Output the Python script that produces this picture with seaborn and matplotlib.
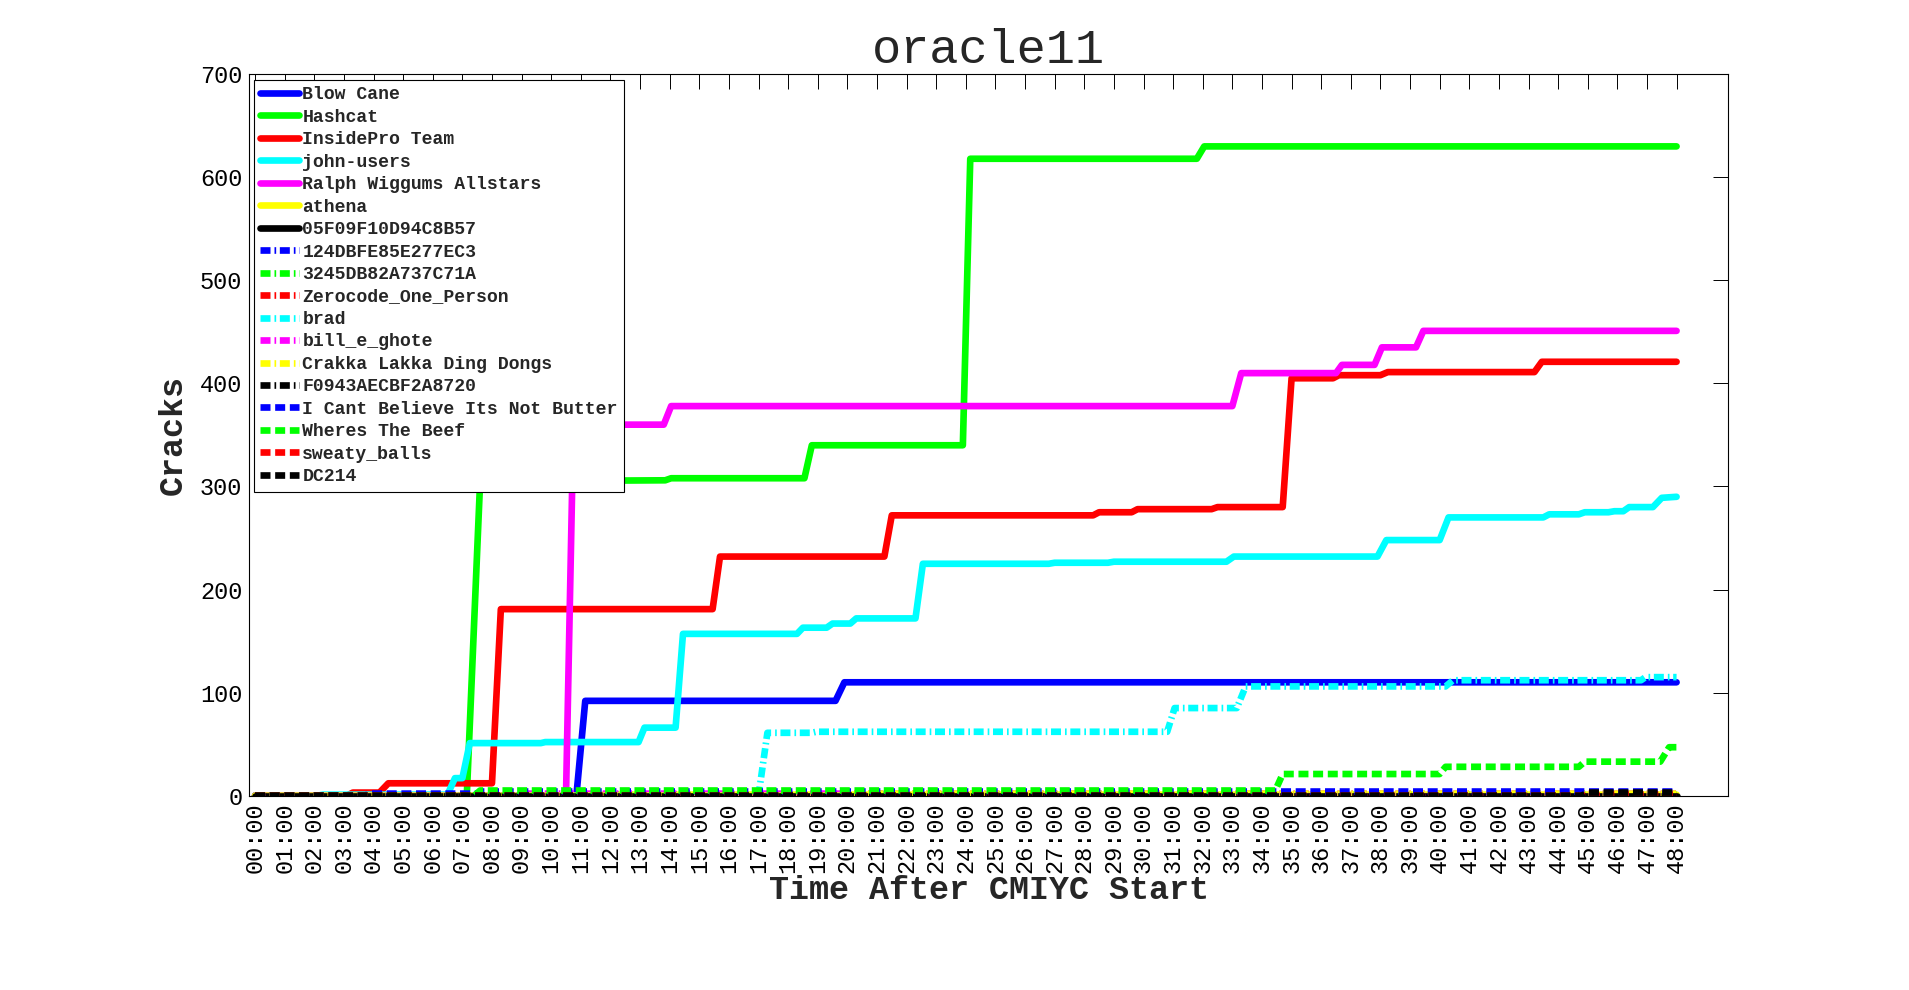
import matplotlib
matplotlib.use("Agg")
import matplotlib.pyplot as plt
import seaborn as sns

# Data: hours after start and cumulative cracks
teams = ['Blow Cane', 'Hashcat', 'InsidePro Team', 'john-users', 'Ralph Wiggums Allstars',
         'athena', '05F09F10D94C8B57', '124DBFE85E277EC3', '3245DB82A737C71A',
         'Zerocode_One_Person', 'brad', 'bill_e_ghote', 'Crakka Lakka Ding Dongs',
         'F0943AECBF2A8720', 'I Cant Believe Its Not Butter', 'Wheres The Beef',
         'sweaty_balls', 'DC214']

blow_cane_t = [0, 10.85, 11.15, 19.6, 19.9, 48]
blow_cane_v = [0, 0, 92, 92, 110, 110]

hashcat_t = [0, 7.15, 7.6, 13.85, 14.05, 18.55, 18.8, 23.9, 24.15, 31.8, 32.05, 48]
hashcat_v = [0, 0, 305, 306, 308, 308, 340, 340, 618, 618, 630, 630]

insidepro_t = [0, 3.1, 3.3, 4.2, 4.5, 8.0, 8.3, 15.45, 15.7, 21.25, 21.5, 28.3, 28.5,
               29.6, 29.8, 32.3, 32.5, 34.7, 35.0, 36.4, 36.6, 38.0, 38.25, 43.2, 43.45, 48]
insidepro_v = [0, 0, 3, 3, 12, 12, 181, 181, 232, 232, 272, 272, 275,
               275, 278, 278, 280, 280, 405, 405, 408, 408, 411, 411, 421, 421]

john_t = [0, 2.1, 2.3, 6.5, 6.75, 7.0, 7.25, 9.65, 9.8, 12.95, 13.15, 14.2, 14.45,
          18.3, 18.5, 19.3, 19.5, 20.1, 20.3, 22.3, 22.55, 26.8, 27.0, 28.8, 29.0,
          32.8, 33.05, 37.9, 38.2, 40.0, 40.3, 43.5, 43.7, 44.7, 44.9, 45.7, 45.9,
          46.2, 46.4, 47.2, 47.5, 48]
john_v = [0, 0, 1, 1, 17, 17, 51, 51, 52, 52, 66, 66, 157,
          157, 163, 163, 167, 167, 172, 172, 225, 225, 226, 226, 227,
          227, 232, 232, 248, 248, 270, 270, 273, 273, 275, 275, 276,
          276, 280, 280, 289, 290]

ralph_t = [0, 10.5, 10.75, 13.8, 14.05, 33.0, 33.3, 36.5, 36.7, 37.8, 38.05, 39.2, 39.45, 48]
ralph_v = [0, 0, 360, 360, 378, 378, 410, 410, 418, 418, 435, 435, 451, 451]

athena_t = [0, 11.0, 11.2, 48]
athena_v = [0, 0, 1, 1]

f05_t = [0, 48]
f05_v = [0, 0]

d124_t = [0, 48]
d124_v = [0, 0]

d3245_t = [0, 12.0, 12.2, 48]
d3245_v = [0, 0, 1, 1]

zerocode_t = [0, 48]
zerocode_v = [0, 0]

brad_t = [0, 17.0, 17.3, 18.8, 18.95, 30.8, 31.05, 33.15, 33.45, 40.2, 40.45, 46.8, 46.95, 48]
brad_v = [0, 0, 61, 61, 62, 62, 85, 85, 106, 106, 112, 112, 115, 115]

bill_t = [0, 9.0, 9.2, 48]
bill_v = [0, 0, 2, 2]

crakka_t = [0, 20.0, 20.2, 48]
crakka_v = [0, 0, 2, 2]

f0943_t = [0, 48]
f0943_v = [0, 0]

butter_t = [0, 3.7, 3.9, 7.5, 7.7, 48]
butter_v = [0, 0, 2, 2, 4, 4]

beef_t = [0, 7.4, 7.6, 34.45, 34.7, 40.0, 40.2, 44.7, 44.9, 47.45, 47.75, 48]
beef_v = [0, 0, 5, 5, 21, 21, 28, 28, 33, 33, 47, 47]

sweaty_t = [0, 45.5, 45.7, 48]
sweaty_v = [0, 0, 1, 1]

dc214_t = [0, 44.8, 45.0, 48]
dc214_v = [0, 0, 3, 3]

series_t = [blow_cane_t, hashcat_t, insidepro_t, john_t, ralph_t, athena_t, f05_t,
            d124_t, d3245_t, zerocode_t, brad_t, bill_t, crakka_t, f0943_t,
            butter_t, beef_t, sweaty_t, dc214_t]
series_v = [blow_cane_v, hashcat_v, insidepro_v, john_v, ralph_v, athena_v, f05_v,
            d124_v, d3245_v, zerocode_v, brad_v, bill_v, crakka_v, f0943_v,
            butter_v, beef_v, sweaty_v, dc214_v]

hours = list(range(49))
hour_labels = ['%02d:00' % h for h in hours]

# matlab-ish colour / style cycle
colors = ['#0000ff', '#00ff00', '#ff0000', '#00ffff', '#ff00ff', '#ffff00', '#000000',
          '#0000ff', '#00ff00', '#ff0000', '#00ffff', '#ff00ff', '#ffff00', '#000000',
          '#0000ff', '#00ff00', '#ff0000', '#000000']
solid = '-'
dashdot = (0, (1.5, 0.6, 0.25, 0.55))
dotted = (0, (1.5, 0.7))
styles = [solid] * 7 + [dashdot] * 7 + [dotted] * 4

sns.set_style('white')
plt.rcParams['font.family'] = ['Liberation Mono', 'DejaVu Sans Mono']

fig = plt.figure(figsize=(19.09, 9.90), dpi=100)
ax = fig.add_axes([0.1303, 0.1963, 0.7751, 0.7287])

for name, t, v, c, ls in zip(teams, series_t, series_v, colors, styles):
    sns.lineplot(x=t, y=v, ax=ax, color=c, linestyle=ls, linewidth=4.8,
                 label=name, estimator=None, errorbar=None, sort=False)

ax.set_xlim(-0.213, 49.75)
ax.set_ylim(0, 700)
ax.set_xticks(hours)
ax.set_xticklabels(hour_labels, rotation=90)
ax.set_yticks(range(0, 701, 100))

ax.tick_params(axis='both', which='major', direction='in', length=10.5, width=0.7,
               top=True, right=True, labelsize=17, color='black', labelcolor='black', pad=4.6)
for s in ax.spines.values():
    s.set_visible(True)
    s.set_color('black')
    s.set_linewidth(0.8)

ax.set_title('oracle11', fontsize=35, pad=8)
ax.set_xlabel('Time After CMIYC Start', fontsize=24, fontweight='bold', labelpad=2)
ax.set_ylabel('Cracks', fontsize=24, fontweight='bold', labelpad=8)

leg = ax.legend(loc='upper left', bbox_to_anchor=(0.0036, 0.992), borderaxespad=0,
                prop={'family': 'Liberation Mono', 'weight': 'bold', 'size': 13.1},
                handlelength=2.1, handletextpad=0.2, labelspacing=0.3, borderpad=0.35,
                fancybox=False, framealpha=1, edgecolor='black')
leg.get_frame().set_linewidth(0.8)

fig.savefig('out.png', dpi=100, facecolor='white')
